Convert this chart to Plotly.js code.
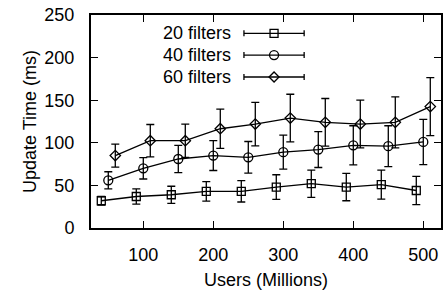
<!DOCTYPE html>
<html><head><meta charset="utf-8">
<script src="https://cdn.plot.ly/plotly-3.0.1.min.js"></script>
<style>html,body{margin:0;padding:0;background:#fff}#c{width:443px;height:296px}</style>
</head><body><div id="c"></div>
<script>
const x20 = [40, 90, 140, 190, 240, 290, 340, 390, 440, 490];
const y20 = [32, 37, 39, 43, 43, 48, 52, 48, 51, 44];
const e20 = [5, 9, 10, 11.5, 12.5, 14.5, 16, 16, 17, 16.5];
const x40 = [50, 100, 150, 200, 250, 300, 350, 400, 450, 500];
const y40 = [56, 70, 81, 85, 83, 89, 92, 97, 96, 101];
const e40 = [10, 12.5, 16, 17.5, 18.5, 20, 21, 23, 24, 26.5];
const x60 = [60, 110, 160, 210, 260, 310, 360, 410, 460, 510];
const y60 = [85, 102.5, 102.5, 116.5, 122, 129, 124, 122, 124, 142.5];
const e60 = [13.5, 19, 19.5, 23, 25.5, 28, 28, 28, 30, 34];
const names = ['20 filters', '40 filters', '60 filters'];
const xTicks = [100, 200, 300, 400, 500];
const yTicks = [0, 50, 100, 150, 200, 250];

const FONT = 'Liberation Sans, DejaVu Sans, sans-serif';
const FS = 18;
function tr(x, y, e, sym, sz) {
  return {x, y, type: 'scatter', mode: 'lines+markers', showlegend: false,
    line: {color: '#000', width: 1.3},
    marker: {symbol: sym, size: sz, color: '#000', line: {color: '#000', width: 1.3}},
    error_y: {type: 'data', array: e, visible: true, color: '#000', thickness: 1.3, width: 4}};
}
const data = [tr(x20, y20, e20, 'square-open', 8), tr(x40, y40, e40, 'circle-open', 9), tr(x60, y60, e60, 'diamond-open', 8)];

const shapes = [], annotations = [];
const rows = [0.914, 0.812, 0.709];
const lx0 = 0.437, lx1 = 0.609, lxm = 0.523;
rows.forEach((ry, i) => {
  shapes.push({type: 'line', xref: 'paper', yref: 'paper', x0: lx0, x1: lx1, y0: ry, y1: ry, line: {color: '#000', width: 1.3}});
  [lx0, lx1].forEach(xx => shapes.push({type: 'line', xref: 'paper', yref: 'paper', ysizemode: 'pixel', yanchor: ry, x0: xx, x1: xx, y0: -3, y1: 3, line: {color: '#000', width: 1.3}}));
  const base = {xref: 'paper', yref: 'paper', xsizemode: 'pixel', ysizemode: 'pixel', xanchor: lxm, yanchor: ry, fillcolor: 'rgba(0,0,0,0)', line: {color: '#000', width: 1.3}};
  if (i === 0) shapes.push(Object.assign({type: 'rect', x0: -4, x1: 4, y0: -4, y1: 4}, base));
  if (i === 1) shapes.push(Object.assign({type: 'circle', x0: -4.5, x1: 4.5, y0: -4.5, y1: 4.5}, base));
  if (i === 2) shapes.push(Object.assign({type: 'path', path: 'M -5 0 L 0 5 L 5 0 L 0 -5 Z'}, base));
  annotations.push({xref: 'paper', yref: 'paper', x: 0.405, y: ry, xanchor: 'right', yanchor: 'middle', text: names[i], showarrow: false, font: {family: FONT, size: FS, color: '#000'}});
});

const ax = {showgrid: false, zeroline: false, ticks: 'inside', ticklen: 7, tickwidth: 1.3, tickcolor: '#000',
  showline: true, linecolor: '#000', linewidth: 2, mirror: 'allticks',
  tickfont: {family: FONT, size: FS, color: '#000'}};
const layout = {
  width: 443, height: 296, margin: {l: 91, r: 2, t: 15, b: 68},
  paper_bgcolor: '#fff', plot_bgcolor: '#fff', showlegend: false,
  xaxis: Object.assign({}, ax, {range: [25.3, 525.3], tickvals: xTicks, ticktext: xTicks.map(String), ticklabelstandoff: 9,
    title: {text: 'Users (Millions)', font: {family: FONT, size: FS, color: '#000'}, standoff: 10}}),
  yaxis: Object.assign({}, ax, {range: [0, 250], tickvals: yTicks, ticktext: yTicks.map(String), ticklabelstandoff: 11,
    title: {text: 'Update Time (ms)', font: {family: FONT, size: FS, color: '#000'}, standoff: 3}}),
  shapes, annotations
};
Plotly.newPlot('c', data, layout, {staticPlot: true, displayModeBar: false});
</script></body></html>
